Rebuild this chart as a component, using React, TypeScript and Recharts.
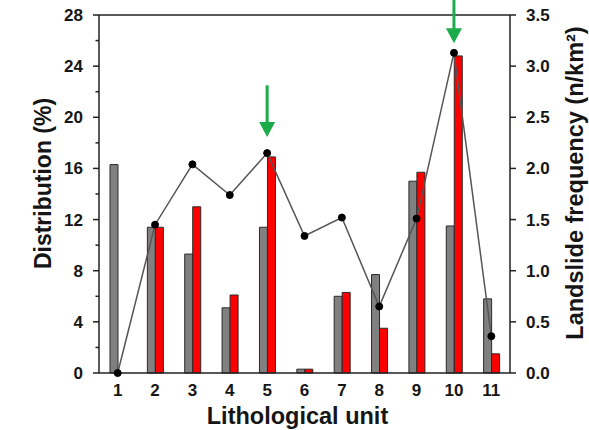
import React from 'react';
import {
  ComposedChart,
  Bar,
  Line,
  XAxis,
  YAxis,
  ReferenceLine,
  Label,
} from 'recharts';

const units = ['1', '2', '3', '4', '5', '6', '7', '8', '9', '10', '11'];
const areaPct = [16.3, 11.4, 9.3, 5.1, 11.4, 0.3, 6.0, 7.7, 15.0, 11.5, 5.8];
const landslidePct = [0, 11.4, 13.0, 6.1, 16.9, 0.3, 6.3, 3.5, 15.7, 24.8, 1.5];
const frequency = [0, 1.45, 2.04, 1.74, 2.15, 1.34, 1.52, 0.65, 1.51, 3.13, 0.36];

const leftTicks = [0, 2, 4, 6, 8, 10, 12, 14, 16, 18, 20, 22, 24, 26, 28];
const rightTicks = [0, 0.5, 1, 1.5, 2, 2.5, 3, 3.5];

const arrowUnits = ['5', '10'];
const arrowFrom = [22.5, 29.2];
const arrowTo = [18.45, 25.8];

const data = units.map((u, i) => ({
  unit: u,
  area: areaPct[i],
  landslide: landslidePct[i],
  freq: frequency[i],
}));

const FONT = "'Liberation Sans', Arial, sans-serif";
const TEXT = '#151515';
const AXIS = '#222';
const GREEN = '#1bab4b';

const LeftTick = (props: any) => {
  const { x, y, payload } = props;
  const v = payload.value as number;
  const major = v % 4 === 0;
  const axisX = x + 16;
  return (
    <g>
      <line x1={axisX} x2={axisX - (major ? 6 : 3.5)} y1={y} y2={y} stroke={AXIS} strokeWidth={1.5} />
      {major && (
        <text x={x} y={y} dy={6} textAnchor="end" fill={TEXT} fontSize={17} fontWeight="bold" fontFamily={FONT}>
          {v}
        </text>
      )}
    </g>
  );
};

const Arrow = (props: any) => {
  const { x1, y1, x2, y2 } = props;
  const headH = 15;
  const halfW = 8;
  return (
    <g>
      <line x1={x1} y1={y1} x2={x2} y2={y2 - headH + 1} stroke={GREEN} strokeWidth={3} />
      <polygon points={`${x2 - halfW},${y2 - headH} ${x2 + halfW},${y2 - headH} ${x2},${y2}`} fill={GREEN} />
    </g>
  );
};

export default function App() {
  return (
    <div style={{ position: 'absolute', left: 0, top: 0 }}>
      <ComposedChart
        width={589}
        height={430}
        data={data}
        margin={{ top: 15, right: 0, bottom: 0, left: 0 }}
        barGap={0}
      >
        <XAxis
          dataKey="unit"
          height={57}
          tickLine={false}
          tickSize={6}
          tickMargin={5}
          axisLine={{ stroke: AXIS, strokeWidth: 1.5 }}
          tick={{ fill: TEXT, fontSize: 17, fontWeight: 'bold', fontFamily: FONT }}
          interval={0}
        >
          <Label
            value="Lithological unit"
            position="center"
            dx={-7}
            dy={14}
            fill={TEXT}
            fontSize={23.5}
            fontWeight="bold"
            fontFamily={FONT}
          />
        </XAxis>
        <YAxis
          yAxisId="left"
          orientation="left"
          width={99}
          domain={[0, 28]}
          ticks={leftTicks}
          interval={0}
          tickLine={false}
          tickSize={6}
          tickMargin={10}
          tick={<LeftTick />}
          axisLine={{ stroke: AXIS, strokeWidth: 1.5 }}
        >
          <Label
            value="Distribution (%)"
            position="center"
            angle={-90}
            dx={-6.5}
            dy={-10.5}
            fill={TEXT}
            fontSize={23}
            fontWeight="bold"
            fontFamily={FONT}
          />
        </YAxis>
        <YAxis
          yAxisId="right"
          orientation="right"
          width={79}
          domain={[0, 3.5]}
          ticks={rightTicks}
          interval={0}
          tickSize={6}
          tickMargin={10}
          tickLine={{ stroke: AXIS, strokeWidth: 1.5 }}
          tickFormatter={(v: number) => v.toFixed(1)}
          tick={{ fill: TEXT, fontSize: 17, fontWeight: 'bold', fontFamily: FONT }}
          axisLine={{ stroke: AXIS, strokeWidth: 1.5 }}
        >
          <Label
            value="Landslide frequency (n/km²)"
            position="center"
            angle={-90}
            dx={25}
            dy={-11}
            fill={TEXT}
            fontSize={23.5}
            fontWeight="bold"
            fontFamily={FONT}
          />
        </YAxis>
        <ReferenceLine yAxisId="left" y={28} stroke={AXIS} strokeWidth={1.5} />
        <Bar yAxisId="left" dataKey="area" fill="#808080" stroke="#2a2a2a" strokeWidth={1} barSize={8} isAnimationActive={false} />
        <Bar yAxisId="left" dataKey="landslide" fill="#ff0000" stroke="#2a2a2a" strokeWidth={1} barSize={8} isAnimationActive={false} />
        <Line
          yAxisId="right"
          dataKey="freq"
          type="linear"
          stroke="#555"
          strokeWidth={1.5}
          dot={{ r: 3.5, fill: '#000', stroke: '#000', strokeWidth: 1 }}
          isAnimationActive={false}
        />
        {arrowUnits.map((u, i) => (
          <ReferenceLine
            key={u}
            yAxisId="left"
            ifOverflow="visible"
            segment={[
              { x: u, y: arrowFrom[i] },
              { x: u, y: arrowTo[i] },
            ]}
            shape={<Arrow />}
          />
        ))}
      </ComposedChart>
    </div>
  );
}
